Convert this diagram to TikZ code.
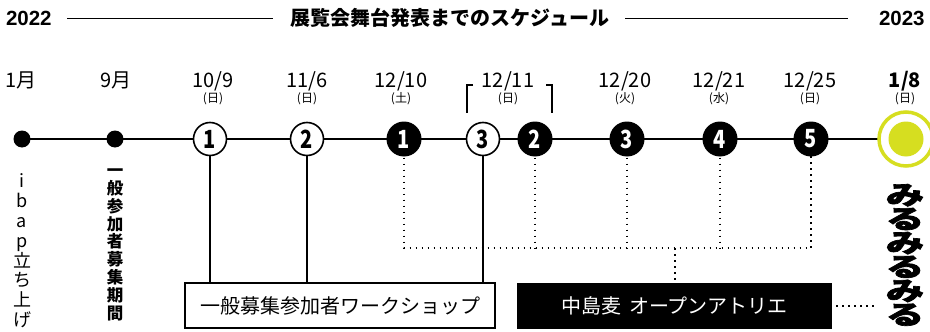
\documentclass[tikz,border=0pt]{standalone}
\usepackage{fontspec}
\usepackage{graphicx}
\setmainfont{Noto Sans CJK JP}
\newfontfamily\libsans{Liberation Sans}
\newfontfamily\heavyjp[FakeBold=2.5]{Noto Sans CJK JP}
\usetikzlibrary{backgrounds}
\definecolor{limey}{RGB}{214,222,32}
\newcommand\cnum[1]{\scalebox{0.8}[1]{#1}}
\begin{document}
\begin{tikzpicture}[x=1pt,y=-1pt,
  every node/.style={inner sep=0pt, outer sep=0pt},
  wc/.style={circle, draw=black, line width=1.6pt, fill=white, minimum size=33pt, font=\bfseries\fontsize{25}{25}\selectfont},
  bc/.style={circle, fill=black, minimum size=35pt, text=white, font=\bfseries\fontsize{25}{25}\selectfont},
  sdot/.style={circle, fill=black, minimum size=17pt},
  datelab/.style={font=\fontsize{20}{20}\selectfont, anchor=base},
  daylab/.style={font=\fontsize{12}{12}\selectfont},
  dotline/.style={line width=1.7pt, dash pattern=on 1.7pt off 4.3pt},
  solidline/.style={line width=1.2pt},
  vtext/.style={align=center, anchor=north}
]
\useasboundingbox (0,0) rectangle (930,332);

% title row
\node[font=\libsans\bfseries\fontsize{20.5}{20}\selectfont, anchor=west] (y22) at (6,18) {2022};
\node[font=\bfseries\fontsize{20}{20}\selectfont] (ttl) at (450,18) {展覧会舞台発表までのスケジュール};
\node[font=\libsans\bfseries\fontsize{20.5}{20}\selectfont, anchor=west] (y23) at (879,18) {2023};
\draw[line width=0.9pt] (67,18) -- (273,18);
\draw[line width=0.9pt] (625,18) -- (848,18);

% dates
\node[datelab] (t1) at (21,87) {1月};
\node[datelab] (t2) at (116,87) {9月};
\node[datelab] (t3) at (213,87) {10/9};
\node[datelab] (t4) at (307,87) {11/6};
\node[datelab] (t5) at (401,87) {12/10};
\node[datelab] (t6) at (508,87) {12/11};
\node[datelab] (t7) at (625,87) {12/20};
\node[datelab] (t8) at (719,87) {12/21};
\node[datelab] (t9) at (810,87) {12/25};
\node[datelab, font=\bfseries\fontsize{20}{20}\selectfont] (t10) at (905,87) {1/8};

\node[daylab] (w3d) at (213,99) {(日)};
\node[daylab] (w4d) at (307,99) {(日)};
\node[daylab] (w5d) at (401,99) {(土)};
\node[daylab] (w6d) at (508,99) {(日)};
\node[daylab] (w7d) at (625,99) {(火)};
\node[daylab] (w8d) at (719,99) {(水)};
\node[daylab] (w9d) at (810,99) {(日)};
\node[daylab] (w10d) at (905,99) {(日)};

% bracket around 12/11
\draw[line width=1.2pt] (473,85) -- (467,85) -- (467,113);
\draw[line width=1.2pt] (546,85) -- (552,85) -- (552,113);

% timeline nodes
\node[sdot] (d1) at (22,139) {};
\node[sdot] (d2) at (115,139) {};
\node[wc] (w1) at (210,139) {\cnum{1}};
\node[wc] (w2) at (307,139) {\cnum{2}};
\node[bc] (b1) at (404,139) {\cnum{1}};
\node[wc] (w3) at (483,139) {\cnum{3}};
\node[bc] (b2) at (535,139) {\cnum{2}};
\node[bc] (b3) at (627,139) {\cnum{3}};
\node[bc] (b4) at (720,139) {\cnum{4}};
\node[bc] (b5) at (811,139) {\cnum{5}};
\node[circle, draw=limey, line width=3.5pt, fill=white, minimum size=54pt] (yl) at (906,139) {};
\node[circle, fill=limey, minimum size=35pt] (ylin) at (yl.center) {};

\begin{scope}[on background layer]
\draw[line width=1.5pt] (d1.center) -- (yl.west);
\end{scope}

% boxes
\node[draw, line width=1.2pt, minimum width=310pt, minimum height=45pt, font=\fontsize{20}{20}\selectfont] (ws) at (340,305.5) {一般募集参加者ワークショップ};
\node[fill=black, text=white, minimum width=315pt, minimum height=46pt, font=\fontsize{20}{20}\selectfont] (ab) at (674.5,306) {中島麦\hspace{0.4em}オープンアトリエ};

% solid connectors
\draw[solidline] (w1.south) -- (w1.south |- ws.north);
\draw[solidline] (w2.south) -- (w2.south |- ws.north);
\draw[solidline] (w3.south) -- (w3.south |- ws.north);

% dotted connectors
\coordinate (hub) at (675,248);
\coordinate (mend) at (875,306);
\draw[dotline] ([yshift=5pt]b1.south) -- (b1.south |- hub) -- (b5.south |- hub) -- ([yshift=5pt]b5.south);
\draw[dotline] ([yshift=5pt]b2.south) -- (b2.south |- hub);
\draw[dotline] ([yshift=5pt]b3.south) -- (b3.south |- hub);
\draw[dotline] ([yshift=5pt]b4.south) -- (b4.south |- hub);
\draw[dotline] (hub) -- (hub |- ab.north);
\draw[dotline] ([xshift=4pt]ab.east) -- (mend);

% vertical texts
\node[vtext, font=\fontsize{18}{19.8}\selectfont] (v1) at (22,174) {i\\b\\a\\p\\立\\ち\\上\\げ};
\node[vtext, font=\bfseries\fontsize{16.5}{17.8}\selectfont] (v2) at (115,169) {一\\般\\参\\加\\者\\募\\集\\期\\間};
\node[anchor=north] (v3) at (905,184) {\scalebox{1.12}[0.76]{\parbox{40pt}{\centering\heavyjp\bfseries\fontsize{34}{31.5}\selectfont み\\る\\み\\る\\み\\る}}};
\end{tikzpicture}
\end{document}
